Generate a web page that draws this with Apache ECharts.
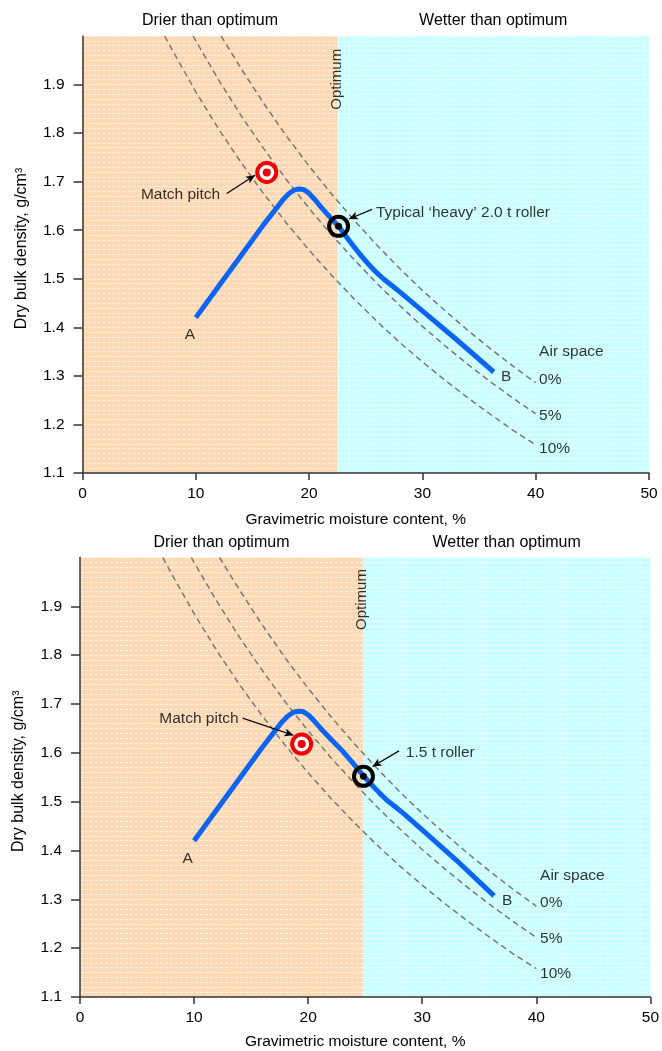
<!DOCTYPE html>
<html>
<head>
<meta charset="utf-8">
<script src="https://cdn.jsdelivr.net/npm/echarts@6/dist/echarts.min.js"></script>
<style>
html,body{margin:0;padding:0;background:#fff;}
#c{width:662px;height:1051px;}
</style>
</head>
<body>
<div id="c"></div>
<script>
// ---- data ----
const xTickValues = [0, 10, 20, 30, 40, 50];
const yTickValues = [1.1, 1.2, 1.3, 1.4, 1.5, 1.6, 1.7, 1.8, 1.9];

const airSpace0 = [[12.23,2.0],[14,1.933],[16,1.861],[18,1.794],[20,1.732],[22,1.674],[24,1.620],[26,1.569],[28,1.521],[30,1.476],[32,1.434],[34,1.394],[36,1.356],[38,1.320],[40,1.286]];
const airSpace5 = [[9.76,2.0],[10,1.990],[12,1.910],[14,1.836],[16,1.768],[18,1.704],[20,1.645],[22,1.590],[24,1.539],[26,1.490],[28,1.445],[30,1.402],[32,1.362],[34,1.324],[36,1.288],[38,1.254],[40,1.222]];
const airSpace10 = [[7.26,2.0],[8,1.968],[10,1.885],[12,1.809],[14,1.739],[16,1.675],[18,1.615],[20,1.559],[22,1.507],[24,1.458],[26,1.412],[28,1.369],[30,1.329],[32,1.291],[34,1.255],[36,1.221],[38,1.188],[40,1.158]];

const curveTop = [[10,1.42],[12,1.484],[14,1.548],[16,1.612],[17.2,1.648],[17.7,1.663],[18.2,1.675],[18.7,1.683],[19.1,1.685],[19.5,1.684],[19.9,1.678],[20.4,1.666],[21,1.649],[21.8,1.628],[22.6,1.608],[23.5,1.58],[24.5,1.55],[25.2,1.531],[25.9,1.514],[26.6,1.499],[27.3,1.486],[28,1.473],[30,1.434],[33,1.375],[36.3,1.308]];
const curveBottom = [[10,1.42],[12,1.484],[14,1.548],[16,1.612],[17.2,1.648],[17.7,1.663],[18.2,1.675],[18.7,1.683],[19.2,1.685],[19.6,1.684],[20,1.678],[20.5,1.666],[21.1,1.65],[22,1.628],[23,1.604],[24,1.577],[24.85,1.553],[25.5,1.536],[26.2,1.519],[26.9,1.503],[27.6,1.49],[28.3,1.477],[30,1.442],[33,1.38],[36.3,1.307]];

const optimumTop = 22.5;
const optimumBottom = 24.8;

const matchPitchTop = [16.26, 1.719];
const rollerTop = [22.6, 1.608];
const matchPitchBottom = [19.43, 1.618];
const rollerBottom = [24.85, 1.552];

const panelTexts = {
  drier: 'Drier than optimum',
  wetter: 'Wetter than optimum',
  optimum: 'Optimum',
  airSpace: 'Air space',
  matchPitch: 'Match pitch',
  rollerTop: 'Typical \u2018heavy\u2019 2.0 t roller',
  rollerBottom: '1.5 t roller',
  xName: 'Gravimetric moisture content, %',
  yName: 'Dry bulk density, g/cm\u00b3'
};

const panels = [
  {
    grid: {left: 82.5, top: 36, width: 566.5, height: 437},
    optimum: optimumTop, curve: curveTop,
    matchPitch: matchPitchTop, roller: rollerTop,
    optimumLabel: [22.45, 1.911],
    matchLabel: [12.15, 1.674], matchArrow: [[12.73, 1.6755], [15.22, 1.713]],
    rollerLabel: [25.9, 1.6356], rollerText: panelTexts.rollerTop, rollerArrow: [[25.55, 1.643], [23.52, 1.623]],
    aLabel: [9.49, 1.384], bLabel: [37.4, 1.2975],
    air: [[40.3, 1.3496], [40.3, 1.293], [40.3, 1.219], [40.3, 1.149]]
  },
  {
    grid: {left: 80, top: 557.5, width: 572, height: 441},
    optimum: optimumBottom, curve: curveBottom,
    matchPitch: matchPitchBottom, roller: rollerBottom,
    optimumLabel: [24.7, 1.914],
    matchLabel: [13.9, 1.669], matchArrow: [[14.25, 1.671], [18.71, 1.636]],
    rollerLabel: [28.56, 1.6008], rollerText: panelTexts.rollerBottom, rollerArrow: [[27.97, 1.604], [25.64, 1.572]],
    aLabel: [9.44, 1.383], bLabel: [37.45, 1.298],
    air: [[40.33, 1.349], [40.33, 1.2927], [40.33, 1.22], [40.33, 1.147]]
  }
];

const FONT = '"Liberation Sans", Arial, sans-serif';
const grids = [], xAxes = [], yAxes = [], series = [];

panels.forEach((p, i) => {
  grids.push(Object.assign({containLabel: false}, p.grid));
  xAxes.push({
    type: 'value', gridIndex: i, min: 0, max: 50, interval: 10,
    name: panelTexts.xName, nameLocation: 'middle', nameGap: i === 0 ? 39 : 37,
    nameTextStyle: {color: '#000', fontSize: 15.5, fontFamily: FONT, padding: [0, 20, 0, 0]},
    axisLine: {show: true, lineStyle: {color: '#333', width: 1.5}},
    axisTick: {show: true, length: 7, lineStyle: {color: '#333', width: 1.5}},
    axisLabel: {color: '#000', fontSize: 15.5, fontFamily: FONT, margin: 13},
    splitLine: {show: false}, z: 3
  });
  yAxes.push({
    type: 'value', gridIndex: i, min: 1.1, max: 2.0, interval: 0.1,
    name: panelTexts.yName, nameLocation: 'middle', nameGap: 53,
    nameTextStyle: {color: '#000', fontSize: 16, fontFamily: FONT, padding: [0, 0, 0, 12]},
    axisLine: {show: true, onZero: false, lineStyle: {color: '#333', width: 1.5}},
    axisTick: {show: true, length: 9, customValues: yTickValues, lineStyle: {color: '#333', width: 1.5}},
    axisLabel: {color: '#000', fontSize: 15.5, fontFamily: FONT, margin: 18, customValues: yTickValues,
      formatter: v => v.toFixed(1)},
    splitLine: {show: false}, z: 3
  });
  // texture axis (faint white dashed lines)
  yAxes.push({
    type: 'value', gridIndex: i, min: 1.1, max: 2.0, interval: 0.01,
    axisLine: {show: false}, axisTick: {show: false}, axisLabel: {show: false},
    splitLine: {show: true, lineStyle: {color: 'rgba(255,255,255,0.65)', width: 1, type: [3, 2]}},
    z: 1.5
  });
  const xi = i, yi = 2 * i;
  // backgrounds
  series.push({
    type: 'line', xAxisIndex: xi, yAxisIndex: yi, data: [], silent: true,
    markArea: {
      silent: true, z: 1,
      label: {show: true, position: 'top', distance: 7, color: '#000', fontSize: 16, fontFamily: FONT},
      data: [
        [{xAxis: 0, yAxis: 1.1, name: panelTexts.drier, itemStyle: {color: '#fdd9b5'}}, {xAxis: p.optimum, yAxis: 2.0}],
        [{xAxis: p.optimum, yAxis: 1.1, name: panelTexts.wetter, itemStyle: {color: '#ccffff'}}, {xAxis: 50, yAxis: 2.0}]
      ]
    }
  });
  // air space lines
  [airSpace0, airSpace5, airSpace10].forEach(d => {
    series.push({
      type: 'line', xAxisIndex: xi, yAxisIndex: yi, data: d, showSymbol: false, silent: true, z: 3,
      lineStyle: {color: '#777', width: 1.5, type: [6, 4]}
    });
  });
  // compaction curve
  series.push({
    type: 'line', xAxisIndex: xi, yAxisIndex: yi, data: p.curve, showSymbol: false, silent: true, z: 4,
    smooth: false,
    lineStyle: {color: '#0a64f5', width: 5, cap: 'butt', join: 'round'}
  });
  // arrows
  series.push({
    type: 'line', xAxisIndex: xi, yAxisIndex: yi, data: [], silent: true,
    markLine: {
      silent: true, symbol: ['none', 'arrow'], symbolSize: [6, 9],
      label: {show: false},
      lineStyle: {color: '#000', width: 1.2, type: 'solid'},
      data: [
        [{coord: p.matchArrow[0]}, {coord: p.matchArrow[1]}],
        [{coord: p.rollerArrow[0]}, {coord: p.rollerArrow[1]}]
      ]
    }
  });
  // targets
  series.push({
    type: 'scatter', xAxisIndex: xi, yAxisIndex: yi, silent: true, z: 6,
    symbol: 'circle', symbolSize: 19,
    data: [
      {value: p.matchPitch, itemStyle: {color: '#fff', borderColor: '#f00000', borderWidth: 4, opacity: 1}},
      {value: p.roller, itemStyle: {color: 'rgba(0,0,0,0)', borderColor: '#000', borderWidth: 4, opacity: 1}}
    ]
  });
  series.push({
    type: 'scatter', xAxisIndex: xi, yAxisIndex: yi, silent: true, z: 7,
    symbol: 'circle', symbolSize: 8,
    data: [
      {value: p.matchPitch, itemStyle: {color: '#f00000', opacity: 1}},
      {value: p.roller, itemStyle: {color: '#000', opacity: 1}, symbolSize: 7}
    ]
  });
  // text labels
  const lab = (v, text, pos, extra) => ({
    value: v,
    label: Object.assign({show: true, formatter: text, position: pos, distance: 0,
      color: '#000', fontSize: 15.5, fontFamily: FONT}, extra || {})
  });
  series.push({
    type: 'scatter', xAxisIndex: xi, yAxisIndex: yi, silent: true, z: 8,
    symbolSize: 0,
    data: [
      lab(p.optimumLabel, panelTexts.optimum, 'inside', {rotate: 90, fontSize: 15}),
      lab(p.matchLabel, panelTexts.matchPitch, 'left'),
      lab(p.rollerLabel, p.rollerText, 'right'),
      lab(p.aLabel, 'A', 'inside'),
      lab(p.bLabel, 'B', 'inside'),
      lab(p.air[0], panelTexts.airSpace, 'right'),
      lab(p.air[1], '0%', 'right'),
      lab(p.air[2], '5%', 'right'),
      lab(p.air[3], '10%', 'right')
    ]
  });
});

const chart = echarts.init(document.getElementById('c'), null, {renderer: 'canvas'});
chart.setOption({
  animation: false,
  backgroundColor: '#fff',
  grid: grids, xAxis: xAxes, yAxis: yAxes, series: series
});
</script>
</body>
</html>
